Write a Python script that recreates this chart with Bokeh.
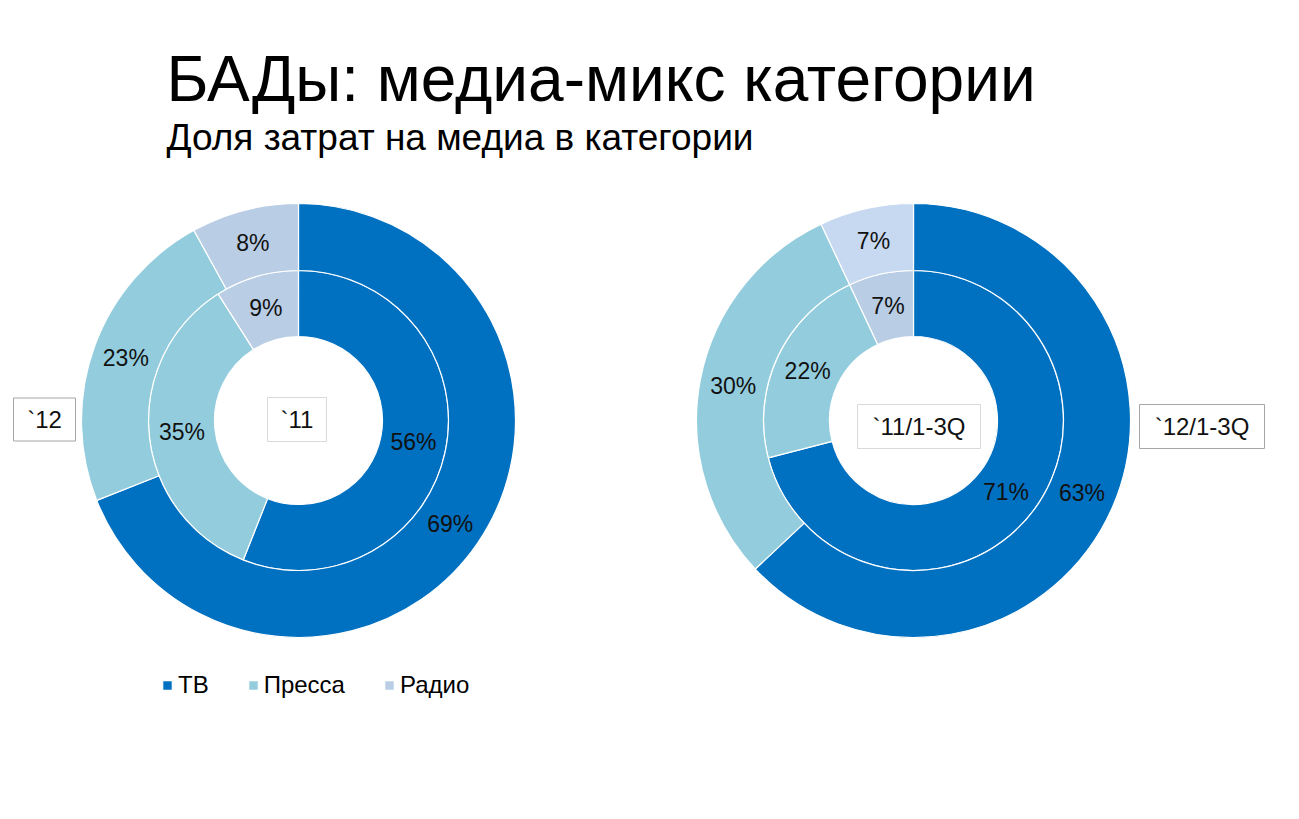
import numpy as np
from bokeh.plotting import figure
from bokeh.models import Range1d, Label, Legend, LegendItem, ColumnDataSource
from bokeh.core.properties import value
from bokeh.embed import file_html
from bokeh.resources import INLINE

# ---------------- data ----------------
categories = ["ТВ", "Пресса", "Радио"]
colors = ["#0070C0", "#93CDDD", "#B9CDE5"]

left_outer_label = "`12"
left_outer = [69, 23, 8]
left_inner_label = "`11"
left_inner = [56, 35, 9]

right_outer_label = "`12/1-3Q"
right_outer = [63, 30, 7]
right_inner_label = "`11/1-3Q"
right_inner = [71, 22, 7]

title = "БАДы: медиа-микс категории"
subtitle = "Доля затрат на медиа в категории"

# ---------------- layout ----------------
W, H = 1283, 803
FONT = "Liberation Sans"


def px(x, y):
    """screenshot pixel -> data coordinates"""
    return x, H - y


R_HOLE, R_MID, R_OUT = 84, 150, 217

p = figure(width=W, height=H, x_range=Range1d(0, W), y_range=Range1d(0, H),
           output_backend="svg", toolbar_location=None,
           x_axis_location=None, y_axis_location=None, min_border=0)
p.grid.visible = False
p.outline_line_color = None
p.background_fill_color = "white"


def ring(center, vals, r0, r1, cols):
    cx, cy = center
    fr = np.array(vals, dtype=float) / sum(vals)
    cum_end = np.cumsum(fr)
    cum_start = cum_end - fr
    start = np.pi / 2 - cum_end * 2 * np.pi
    end = np.pi / 2 - cum_start * 2 * np.pi
    mid = (cum_start + cum_end) / 2
    rm = (r0 + r1) / 2
    lx = cx + rm * np.sin(mid * 2 * np.pi)
    ly = cy + rm * np.cos(mid * 2 * np.pi)
    src = ColumnDataSource(dict(x=[cx] * len(vals), y=[cy] * len(vals),
                                start=start, end=end, color=cols,
                                lx=lx, ly=ly, txt=[f"{v}%" for v in vals]))
    r = p.annular_wedge(x="x", y="y", inner_radius=r0, outer_radius=r1,
                        start_angle="start", end_angle="end",
                        direction="anticlock", fill_color="color",
                        line_color="white", line_width=1.2, source=src)
    p.text(x="lx", y="ly", text="txt", source=src, text_align="center",
           text_baseline="middle", text_font=value(FONT),
           text_font_size="23px", text_color="#111111")
    return r


cL = px(298, 420)
cR = px(913, 420)
r_leg = ring(cL, left_inner, R_HOLE, R_MID, colors)
ring(cL, left_outer, R_MID, R_OUT, colors)
ring(cR, right_inner, R_HOLE, R_MID, colors)
ring(cR, right_outer, R_MID, R_OUT, [colors[0], colors[1], "#C6D9F1"])


def box_label(text, sx, sy, w, h, border):
    x, y = px(sx, sy)
    p.rect(x=[x], y=[y], width=w, height=h, width_units="screen",
           height_units="screen", fill_color="white", line_color=border,
           line_width=1)
    p.text(x=[x], y=[y], text=[text], text_align="center",
           text_baseline="middle", text_font=value(FONT),
           text_font_size="24px", text_color="#111111")


box_label(left_outer_label, 44, 419, 62, 43, "#A6A6A6")
box_label(left_inner_label, 296.5, 419, 59, 44, "#D9D9D9")
box_label(right_inner_label, 918.5, 426, 123, 44, "#D9D9D9")
box_label(right_outer_label, 1201.5, 426, 125, 44, "#A6A6A6")

# titles
tx, ty = px(166, 78)
p.add_layout(Label(x=tx, y=ty, text=title, text_font=FONT,
                   text_font_size="64px", text_color="black",
                   text_baseline="alphabetic"))
sx, sy = px(166, 137)
p.add_layout(Label(x=sx, y=sy, text=subtitle, text_font=FONT,
                   text_font_size="37px", text_color="black",
                   text_baseline="alphabetic"))

# legend
items = [LegendItem(label=cat, renderers=[r_leg], index=i)
         for i, cat in enumerate(categories)]
legend = Legend(items=items, orientation="horizontal", location=(161, 104),
                glyph_width=12, glyph_height=12, label_standoff=5, spacing=38,
                padding=0, margin=0, border_line_color=None,
                background_fill_alpha=0, label_text_font=FONT,
                label_text_font_size="24px", label_text_color="black")
p.add_layout(legend, "center")

open("out.html", "w").write(file_html(p, INLINE))
